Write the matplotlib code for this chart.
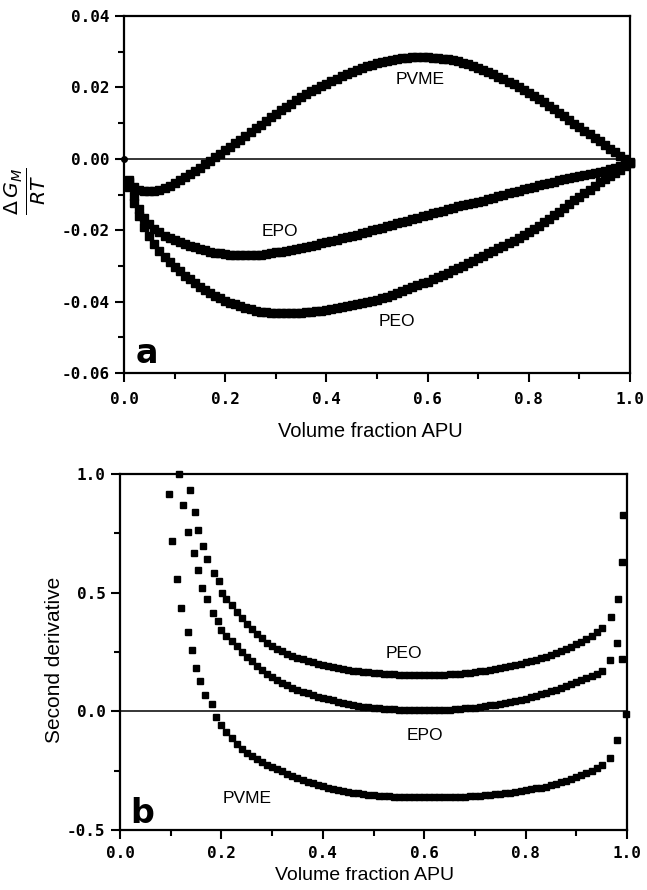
import numpy as np
import matplotlib
matplotlib.use( 'Agg' )
import matplotlib.pyplot as plt
from matplotlib.ticker import MultipleLocator, FormatStrFormatter

plt.rcParams[ 'axes.unicode_minus' ] = False

## DATA
# Panel a: dG_M / RT, sampled every 0.01 in volume fraction APU (values in units of 1e-3)
phi_a = np.round( np.arange( 1, 101 ) * 0.01, 2 )

pvme_a = [ -6.0, -7.8, -8.6, -8.9, -9.0, -8.9, -8.6, -8.1, -7.5, -6.8,
           -6.0, -5.2, -4.3, -3.4, -2.5, -1.5, -0.6, 0.4, 1.4, 2.4,
           3.4, 4.4, 5.4, 6.5, 7.5, 8.6, 9.6, 10.7, 11.7, 12.7,
           13.7, 14.6, 15.5, 16.4, 17.3, 18.1, 18.9, 19.7, 20.4, 21.1,
           21.8, 22.5, 23.2, 23.8, 24.4, 25.0, 25.5, 26.0, 26.4, 26.8,
           27.2, 27.5, 27.8, 28.0, 28.2, 28.4, 28.5, 28.5, 28.5, 28.5,
           28.4, 28.3, 28.1, 27.9, 27.6, 27.3, 26.9, 26.5, 26.1, 25.6,
           25.0, 24.4, 23.7, 23.0, 22.3, 21.6, 20.9, 20.1, 19.3, 18.5,
           17.6, 16.7, 15.8, 14.9, 13.9, 12.9, 11.9, 10.9, 9.9, 8.9,
           7.9, 6.9, 5.9, 4.9, 3.9, 2.9, 1.9, 0.9, -0.1, -1.0 ]

epo_a = [ -6.5, -10.5, -14.0, -16.5, -18.3, -19.6, -20.6, -21.5, -22.2, -22.8,
          -23.3, -23.8, -24.3, -24.8, -25.2, -25.6, -26.0, -26.3, -26.5, -26.7,
          -26.8, -26.9, -26.9, -26.9, -26.9, -26.9, -26.8, -26.6, -26.4, -26.2,
          -26.0, -25.8, -25.5, -25.2, -24.9, -24.6, -24.3, -24.0, -23.7, -23.4,
          -23.1, -22.7, -22.3, -21.9, -21.6, -21.2, -20.8, -20.4, -20.0, -19.7,
          -19.3, -18.9, -18.5, -18.1, -17.7, -17.3, -16.9, -16.5, -16.1, -15.7,
          -15.3, -14.9, -14.5, -14.1, -13.7, -13.3, -13.0, -12.7, -12.4, -12.1,
          -11.7, -11.3, -10.9, -10.5, -10.1, -9.7, -9.3, -8.9, -8.5, -8.1,
          -7.8, -7.4, -7.1, -6.7, -6.4, -6.0, -5.7, -5.4, -5.1, -4.8,
          -4.5, -4.2, -3.9, -3.6, -3.3, -2.9, -2.5, -2.1, -1.7, -1.2 ]

peo_a = [ -8.0, -12.5, -16.0, -19.0, -21.6, -23.8, -25.7, -27.4, -28.9, -30.3,
          -31.5, -32.7, -33.8, -34.8, -35.8, -36.7, -37.5, -38.3, -39.0, -39.7,
          -40.3, -40.8, -41.3, -41.7, -42.1, -42.5, -42.8, -43.0, -43.1, -43.2,
          -43.2, -43.2, -43.2, -43.2, -43.1, -43.0, -42.9, -42.7, -42.6, -42.4,
          -42.2, -41.9, -41.6, -41.3, -41.0, -40.7, -40.4, -40.1, -39.8, -39.5,
          -39.1, -38.6, -38.1, -37.6, -37.1, -36.6, -36.0, -35.4, -34.9, -34.4,
          -33.8, -33.2, -32.5, -31.9, -31.2, -30.6, -29.9, -29.2, -28.5, -27.8,
          -27.1, -26.4, -25.7, -25.0, -24.3, -23.6, -22.9, -22.1, -21.4, -20.6,
          -19.7, -18.8, -17.8, -16.8, -15.8, -14.8, -13.7, -12.7, -11.6, -10.6,
          -9.6, -8.6, -7.6, -6.6, -5.7, -4.8, -3.9, -3.0, -2.0, -1.1 ]

# Panel b: second derivative
# steep start (scattered points), smooth middle every 0.01, and the last few points near phi = 1
pvme_b_head_x = [ 0.097, 0.103, 0.112, 0.120, 0.135, 0.141, 0.150, 0.158, 0.168, 0.181 ]
pvme_b_head_y = [ 0.917, 0.718, 0.556, 0.435, 0.333, 0.257, 0.181, 0.126, 0.069, 0.030 ]
pvme_b_mid_x = np.round( np.arange( 19, 96 ) * 0.01, 2 )
pvme_b_mid_y = [ -0.024, -0.058, -0.088, -0.114, -0.137, -0.157, -0.174, -0.189, -0.202, -0.214,
                 -0.225, -0.235, -0.244, -0.253, -0.262, -0.271, -0.280, -0.288, -0.296, -0.303,
                 -0.310, -0.316, -0.322, -0.327, -0.332, -0.336, -0.340, -0.343, -0.346, -0.349,
                 -0.351, -0.353, -0.355, -0.357, -0.358, -0.359, -0.360, -0.361, -0.362, -0.362,
                 -0.363, -0.363, -0.363, -0.363, -0.363, -0.362, -0.362, -0.361, -0.360, -0.359,
                 -0.358, -0.357, -0.355, -0.353, -0.351, -0.349, -0.347, -0.345, -0.342, -0.339,
                 -0.336, -0.333, -0.329, -0.325, -0.321, -0.317, -0.312, -0.306, -0.299, -0.292,
                 -0.284, -0.276, -0.268, -0.260, -0.250, -0.240, -0.228 ]
pvme_b_tail_x = [ 0.966, 0.981, 0.998 ]
pvme_b_tail_y = [ -0.196, -0.120, -0.010 ]

epo_b_head_x = [ 0.116, 0.124, 0.135, 0.145, 0.153, 0.162, 0.171, 0.184, 0.193, 0.199 ]
epo_b_head_y = [ 1.000, 0.871, 0.754, 0.669, 0.594, 0.520, 0.472, 0.416, 0.379, 0.341 ]
epo_b_mid_x = np.round( np.arange( 21, 96 ) * 0.01, 2 )
epo_b_mid_y = [ 0.318, 0.296, 0.275, 0.252, 0.231, 0.211, 0.192, 0.173, 0.157, 0.143,
                0.130, 0.119, 0.109, 0.100, 0.091, 0.083, 0.076, 0.069, 0.062, 0.056,
                0.051, 0.046, 0.041, 0.036, 0.031, 0.027, 0.023, 0.020, 0.017, 0.014,
                0.012, 0.010, 0.009, 0.008, 0.007, 0.006, 0.005, 0.005, 0.005, 0.005,
                0.005, 0.005, 0.005, 0.006, 0.007, 0.008, 0.010, 0.012, 0.014, 0.016,
                0.019, 0.022, 0.025, 0.028, 0.032, 0.036, 0.040, 0.044, 0.049, 0.054,
                0.059, 0.065, 0.071, 0.077, 0.084, 0.091, 0.098, 0.106, 0.114, 0.122,
                0.130, 0.139, 0.148, 0.158, 0.170 ]
epo_b_tail_x = [ 0.966, 0.980, 0.990 ]
epo_b_tail_y = [ 0.215, 0.288, 0.222 ]

peo_b_head_x = [ 0.138, 0.148, 0.154, 0.163, 0.172, 0.185, 0.195, 0.202 ]
peo_b_head_y = [ 0.934, 0.840, 0.763, 0.697, 0.641, 0.585, 0.548, 0.500 ]
peo_b_mid_x = np.round( np.arange( 21, 96 ) * 0.01, 2 )
peo_b_mid_y = [ 0.472, 0.447, 0.420, 0.394, 0.370, 0.347, 0.326, 0.307, 0.290, 0.276,
                0.264, 0.253, 0.243, 0.234, 0.226, 0.219, 0.212, 0.206, 0.200, 0.195,
                0.190, 0.186, 0.182, 0.178, 0.175, 0.172, 0.169, 0.166, 0.164, 0.162,
                0.160, 0.158, 0.157, 0.156, 0.155, 0.154, 0.153, 0.153, 0.153, 0.153,
                0.153, 0.153, 0.154, 0.155, 0.156, 0.157, 0.159, 0.161, 0.163, 0.166,
                0.169, 0.172, 0.175, 0.179, 0.183, 0.187, 0.191, 0.196, 0.201, 0.206,
                0.212, 0.218, 0.224, 0.231, 0.238, 0.246, 0.254, 0.263, 0.272, 0.282,
                0.293, 0.305, 0.318, 0.333, 0.350 ]
peo_b_tail_x = [ 0.968, 0.983, 0.990, 0.993 ]
peo_b_tail_y = [ 0.397, 0.472, 0.629, 0.829 ]

x_ticks = [ '0.0', '0.2', '0.4', '0.6', '0.8', '1.0' ]

## STYLE
tick_font = dict( family = 'DejaVu Sans Mono', weight = 'bold', size = 11.5 )
text_font = 'Liberation Sans'


def style_axes( ax, xpad ):
    """ Boxed axes with outward ticks and mono bold tick labels """
    for s in ax.spines.values():
        s.set_linewidth( 1.6 )
    ax.tick_params( which = 'both', direction = 'out', width = 1.5, top = False, right = False )
    ax.tick_params( which = 'major', length = 6.5 )
    ax.tick_params( which = 'minor', length = 4 )
    ax.tick_params( axis = 'x', which = 'major', pad = xpad )
    ax.tick_params( axis = 'y', which = 'major', pad = 4 )
    ax.set_xlim( 0, 1 )
    ax.xaxis.set_minor_locator( MultipleLocator( 0.1 ) )
    ax.set_xticks( [ 0, 0.2, 0.4, 0.6, 0.8, 1.0 ] )
    ax.set_xticklabels( x_ticks )
    for lab in ax.get_xticklabels() + ax.get_yticklabels():
        lab.set_fontfamily( tick_font[ 'family' ] )
        lab.set_fontweight( tick_font[ 'weight' ] )
        lab.set_fontsize( tick_font[ 'size' ] )
    ax.axhline( 0, color = 'black', lw = 1.1, zorder = 1 )


fig = plt.figure( figsize = ( 6.47, 8.90 ), dpi = 100 )
ax_a = fig.add_axes( [ 0.1917, 0.5809, 0.782, 0.401 ] )
ax_b = fig.add_axes( [ 0.1855, 0.0674, 0.7836, 0.400 ] )

mk = dict( ls = 'none', marker = 's', color = 'black', mec = 'black', clip_on = False, zorder = 3 )

## PANEL a
ax_a.plot( phi_a, np.array( pvme_a ) * 1e-3, ms = 5.4, **mk )
ax_a.plot( phi_a, np.array( epo_a ) * 1e-3, ms = 5.4, **mk )
ax_a.plot( phi_a, np.array( peo_a ) * 1e-3, ms = 5.4, **mk )
ax_a.plot( [ 0 ], [ 0 ], ls = 'none', marker = 'o', ms = 4, color = 'black', clip_on = False )
ax_a.set_ylim( -0.06, 0.04 )
ax_a.yaxis.set_major_locator( MultipleLocator( 0.02 ) )
ax_a.yaxis.set_minor_locator( MultipleLocator( 0.01 ) )
ax_a.yaxis.set_major_formatter( FormatStrFormatter( '%.2f' ) )
style_axes( ax_a, 7.5 )

ax_a.set_xlabel( 'Volume fraction APU', fontfamily = text_font, fontsize = 14.5 )
ax_a.xaxis.set_label_coords( 0.487, -0.138 )
ax_a.set_ylabel( r'$\frac{\Delta\,G_M}{RT}$', fontsize = 21, rotation = 90 )
ax_a.yaxis.set_label_coords( -0.15, 0.51 )

ax_a.text( 0.585, 0.0221, 'PVME', fontfamily = text_font, fontsize = 12.5, ha = 'center', va = 'center' )
ax_a.text( 0.308, -0.0204, 'EPO', fontfamily = text_font, fontsize = 12.5, ha = 'center', va = 'center' )
ax_a.text( 0.539, -0.0456, 'PEO', fontfamily = text_font, fontsize = 12.5, ha = 'center', va = 'center' )
ax_a.text( 0.045, -0.0545, 'a', fontfamily = 'DejaVu Sans', fontweight = 'bold', fontsize = 24,
           ha = 'center', va = 'center' )

## PANEL b
for hx, hy, mx, my, tx, ty in [
        ( pvme_b_head_x, pvme_b_head_y, pvme_b_mid_x, pvme_b_mid_y, pvme_b_tail_x, pvme_b_tail_y ),
        ( epo_b_head_x, epo_b_head_y, epo_b_mid_x, epo_b_mid_y, epo_b_tail_x, epo_b_tail_y ),
        ( peo_b_head_x, peo_b_head_y, peo_b_mid_x, peo_b_mid_y, peo_b_tail_x, peo_b_tail_y ) ]:
    x = np.concatenate( [ hx, mx, tx ] )
    y = np.concatenate( [ hy, my, ty ] )
    ax_b.plot( x, y, ms = 5, **mk )

ax_b.set_ylim( -0.5, 1.0 )
ax_b.yaxis.set_major_locator( MultipleLocator( 0.5 ) )
ax_b.yaxis.set_minor_locator( MultipleLocator( 0.25 ) )
ax_b.yaxis.set_major_formatter( FormatStrFormatter( '%.1f' ) )
style_axes( ax_b, 5 )

ax_b.set_xlabel( 'Volume fraction APU', fontfamily = text_font, fontsize = 14 )
ax_b.xaxis.set_label_coords( 0.483, -0.104 )
ax_b.set_ylabel( 'Second derivative', fontfamily = text_font, fontsize = 15 )
ax_b.yaxis.set_label_coords( -0.11, 0.478 )

ax_b.text( 0.559, 0.243, 'PEO', fontfamily = text_font, fontsize = 12.5, ha = 'center', va = 'center' )
ax_b.text( 0.602, -0.101, 'EPO', fontfamily = text_font, fontsize = 12.5, ha = 'center', va = 'center' )
ax_b.text( 0.250, -0.368, 'PVME', fontfamily = text_font, fontsize = 12.5, ha = 'center', va = 'center' )
ax_b.text( 0.043, -0.431, 'b', fontfamily = 'DejaVu Sans', fontweight = 'bold', fontsize = 24,
           ha = 'center', va = 'center' )

fig.savefig( 'out.png', dpi = 100 )
